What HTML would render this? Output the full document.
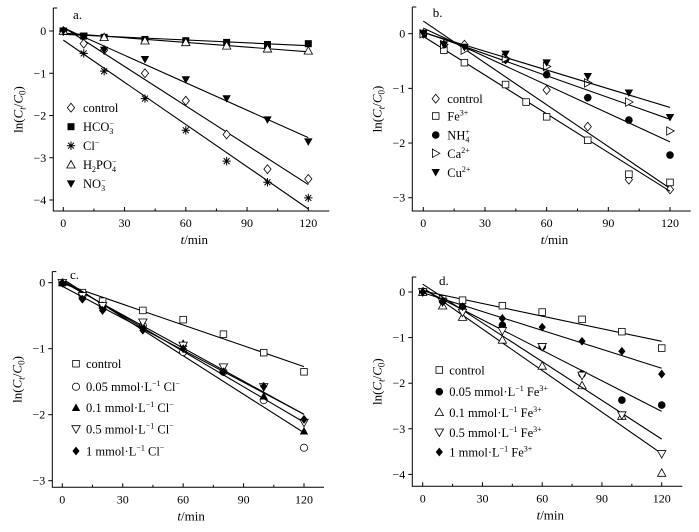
<!DOCTYPE html>
<html><head><meta charset="utf-8"><style>
html,body{margin:0;padding:0;background:#fff;}
svg{display:block;}
svg text{font-family:"Liberation Serif","Times New Roman",serif;}
</style></head><body>
<svg id="chart" width="699" height="532" viewBox="0 0 699 532" xmlns="http://www.w3.org/2000/svg" font-family="Liberation Serif, serif"></svg>
<script>
// ---- data ----
const tA = [0,10,20,40,60,80,100,120];
const aControl = [0,-0.3,-0.45,-1.0,-1.65,-2.45,-3.27,-3.5];
const aHCO3 = [0,-0.12,-0.15,-0.2,-0.23,-0.27,-0.32,-0.3];
const aCl = [0,-0.53,-0.95,-1.6,-2.35,-3.08,-3.58,-3.95];
const tA2 = [0,20,40,60,80,100,120];
const aH2PO4 = [0,-0.15,-0.23,-0.27,-0.35,-0.42,-0.47];
const aNO3 = [0,-0.12,-0.45,-0.67,-1.15,-1.6,-2.1,-2.62];

const tB = [0,10,20,40,60,80,100,120];
const tBFe = [0,10,20,40,50,60,80,100,120];
const bControl = [0,-0.2,-0.2,-0.47,-1.03,-1.7,-2.67,-2.85];
const bFe = [0,-0.3,-0.53,-0.93,-1.25,-1.52,-1.95,-2.57,-2.72];
const bNH4 = [0,-0.2,-0.25,-0.47,-0.75,-1.17,-1.58,-2.22];
const bCa = [0,-0.2,-0.3,-0.45,-0.6,-0.9,-1.25,-1.78];
const bCu = [0,-0.2,-0.25,-0.37,-0.53,-0.78,-1.08,-1.53];

const tC = [0,10,20,40,60,80,100,120];
const cControl = [0,-0.15,-0.28,-0.42,-0.56,-0.78,-1.06,-1.35];
const c005 = [0,-0.2,-0.35,-0.65,-1.05,-1.35,-1.78,-2.5];
const c01 = [0,-0.2,-0.35,-0.65,-0.92,-1.33,-1.72,-2.25];
const c05 = [0,-0.2,-0.35,-0.6,-0.95,-1.28,-1.58,-2.12];
const c1 = [0,-0.25,-0.42,-0.72,-1.0,-1.35,-1.57,-2.07];

const tD = [0,10,20,40,60,80,100,120];
const dControl = [0,-0.15,-0.18,-0.3,-0.44,-0.6,-0.87,-1.23];
const d005 = [0,-0.2,-0.33,-0.73,-1.2,-1.8,-2.37,-2.48];
const d01 = [0,-0.3,-0.55,-1.05,-1.62,-2.05,-2.72,-3.97];
const d05 = [0,-0.22,-0.45,-0.85,-1.2,-1.83,-2.7,-3.55];
const d1 = [0,-0.2,-0.32,-0.58,-0.77,-1.08,-1.3,-1.8];

const xTicks = [0,30,60,90,120];
const yTicksA = [0,-1,-2,-3,-4];
const yTicksB = [0,-1,-2,-3];
const yTicksC = [0,-1,-2,-3];
const yTicksD = [0,-1,-2,-3,-4];

const NS="http://www.w3.org/2000/svg";
const svg=document.getElementById('chart');
const FF='Liberation Serif, serif';
function mk(tag,attrs,parent){const e=document.createElementNS(NS,tag);for(const k in attrs)e.setAttribute(k,attrs[k]);if(tag==='text')e.setAttribute('font-family',FF);(parent||svg).appendChild(e);return e;}
function fit(xs,ys){const n=xs.length;let sx=0,sy=0,sxx=0,sxy=0;for(let i=0;i<n;i++){sx+=xs[i];sy+=ys[i];sxx+=xs[i]*xs[i];sxy+=xs[i]*ys[i];}const m=(n*sxy-sx*sy)/(n*sxx-sx*sx);return [m,(sy-m*sx)/n];}

function marker(g,type,x,y,s){
  s=s||3.6;let e;
  if(type==='diamond'){e=mk('polygon',{points:`${x},${y-s-0.8} ${x+s},${y} ${x},${y+s+0.8} ${x-s},${y}`,fill:'#fff',stroke:'#000','stroke-width':0.8},g);}
  else if(type==='diamondF'){e=mk('polygon',{points:`${x},${y-s-0.8} ${x+s},${y} ${x},${y+s+0.8} ${x-s},${y}`,fill:'#000'},g);}
  else if(type==='squareF'){e=mk('rect',{x:x-3.5,y:y-3.5,width:7,height:7,fill:'#000'},g);}
  else if(type==='square'){e=mk('rect',{x:x-3.3,y:y-3.3,width:6.6,height:6.6,fill:'#fff',stroke:'#000','stroke-width':0.8},g);}
  else if(type==='circle'){e=mk('circle',{cx:x,cy:y,r:3.6,fill:'#fff',stroke:'#000','stroke-width':0.8},g);}
  else if(type==='circleF'){e=mk('circle',{cx:x,cy:y,r:3.8,fill:'#000'},g);}
  else if(type==='tri'){e=mk('polygon',{points:`${x},${y-4.2} ${x+4.2},${y+3.3} ${x-4.2},${y+3.3}`,fill:'#fff',stroke:'#000','stroke-width':0.8},g);}
  else if(type==='triF'){e=mk('polygon',{points:`${x},${y-4.2} ${x+4.2},${y+3.3} ${x-4.2},${y+3.3}`,fill:'#000'},g);}
  else if(type==='dtri'){e=mk('polygon',{points:`${x},${y+4.2} ${x+4.2},${y-3.3} ${x-4.2},${y-3.3}`,fill:'#fff',stroke:'#000','stroke-width':0.8},g);}
  else if(type==='dtriF'){e=mk('polygon',{points:`${x},${y+4.2} ${x+4.2},${y-3.3} ${x-4.2},${y-3.3}`,fill:'#000'},g);}
  else if(type==='rtri'){e=mk('polygon',{points:`${x+4.2},${y} ${x-3.3},${y-4.2} ${x-3.3},${y+4.2}`,fill:'#fff',stroke:'#000','stroke-width':0.8},g);}
  else if(type==='star'){const p=[];for(let i=0;i<4;i++){const a=i*Math.PI/4;p.push(`M${x-4.2*Math.cos(a)},${y-4.2*Math.sin(a)}L${x+4.2*Math.cos(a)},${y+4.2*Math.sin(a)}`);}e=mk('path',{d:p.join(''),stroke:'#000','stroke-width':1,fill:'none'},g);}
  
  
  return e;
}

function panel(cfg){
  const g=mk('g',{});
  const X=v=>cfg.x0+(v-0)*(cfg.x1-cfg.x0)/120;
  const Y=v=>cfg.y0+(0-v)*cfg.yu;
  mk('path',{d:`M${cfg.ax},${cfg.top}L${cfg.ax},${cfg.bot}L${cfg.right},${cfg.bot}`,fill:'none',stroke:'#000','stroke-width':1,},g);
  mk('line',{x1:cfg.ax,y1:cfg.top,x2:cfg.ax+4,y2:cfg.top,stroke:'#000','stroke-width':1,},g);
  for(let v=0;v<=127;v+=15){mk('line',{x1:X(v),y1:cfg.bot,x2:X(v),y2:cfg.bot-(v%30===0?4:2.5),stroke:'#000','stroke-width':1,},g);}
  xTicks.forEach(v=>{const t=mk('text',{x:X(v),y:cfg.bot+16,'text-anchor':'middle','font-size':12,},g);t.textContent=v;});
  cfg.yTicks.forEach(v=>{mk('line',{x1:cfg.ax-4,y1:Y(v),x2:cfg.ax,y2:Y(v),stroke:'#000','stroke-width':1,},g);
    const t=mk('text',{x:cfg.ax-7,y:Y(v)+4,'text-anchor':'end','font-size':12,},g);t.textContent=v===0?'0':'\u2212'+(-v);});
  const xl=mk('text',{x:(cfg.ax+cfg.right)/2+3,y:cfg.bot+33,'text-anchor':'middle','font-size':13,},g);
  xl.innerHTML='<tspan font-style="italic">t</tspan>/min';
  const yl=mk('text',{transform:`translate(${cfg.ax-31},${(cfg.top+cfg.bot)/2}) rotate(-90)`,'text-anchor':'middle','font-size':13,},g);
  yl.innerHTML='ln(<tspan font-style="italic">C</tspan><tspan font-style="italic" font-size="9" dy="3">t</tspan><tspan dy="-3">/</tspan><tspan font-style="italic">C</tspan><tspan font-size="9" dy="3">0</tspan><tspan dy="-3">)</tspan>';
  const pl=mk('text',{x:cfg.lx,y:cfg.ly,'font-size':13,},g);pl.textContent=cfg.label;
  cfg.series.forEach((s,i)=>{
    const sg=mk('g',{},g);
    const [m,b]=fit(s.t,s.v);
    mk('line',{x1:X(0),y1:Y(b),x2:X(120),y2:Y(b+120*m),stroke:'#000','stroke-width':1.1,},sg);
    s.t.forEach((t,j)=>marker(sg,s.m,X(t),Y(s.v[j])));
    const lg=mk('g',{},g);
    const ly=cfg.legY[i];
    marker(lg,s.m,cfg.legMx,ly);
    const tx=mk('text',{x:cfg.legTx,y:ly+4.5,'font-size':12.5},lg);tx.innerHTML=s.label;
  });
}

panel({name:'panel-a',label:'a.',lx:73,ly:19,x0:63.3,x1:308.3,y0:31,yu:42.25,ax:53.3,top:8,bot:211,right:329.3,yTicks:yTicksA,
  legMx:71,legTx:83,legY:[107.7,126.7,145.7,164.7,183.7],
  series:[
   {key:'control',m:'diamond',t:tA,v:aControl,label:'control'},
   {key:'hco3',m:'squareF',t:tA,v:aHCO3,label:'HCO<tspan font-size="8" dy="3">3</tspan><tspan font-size="8" dy="-8" dx="-4">\u2212</tspan>'},
   {key:'cl',m:'star',t:tA,v:aCl,label:'Cl<tspan font-size="8" dy="-5">\u2212</tspan>'},
   {key:'h2po4',m:'tri',t:tA2,v:aH2PO4,label:'H<tspan font-size="8" dy="3">2</tspan><tspan dy="-3">PO</tspan><tspan font-size="8" dy="3">4</tspan><tspan font-size="8" dy="-8" dx="-4">\u2212</tspan>'},
   {key:'no3',m:'dtriF',t:tA,v:aNO3,label:'NO<tspan font-size="8" dy="3">3</tspan><tspan font-size="8" dy="-8" dx="-4">\u2212</tspan>'}]});

panel({name:'panel-b',label:'b.',lx:432.7,ly:17,x0:423.3,x1:670,y0:33.7,yu:54.67,ax:412.3,top:7,bot:211,right:690.7,yTicks:yTicksB,
  legMx:435.7,legTx:447.3,legY:[98.7,116,135,153.3,172.3],
  series:[
   {key:'control',m:'diamond',t:tB,v:bControl,label:'control'},
   {key:'fe',m:'square',t:tBFe,v:bFe,label:'Fe<tspan font-size="8" dy="-5">3+</tspan>'},
   {key:'nh4',m:'circleF',t:tB,v:bNH4,label:'NH<tspan font-size="8" dy="3">4</tspan><tspan font-size="8" dy="-8" dx="-4">+</tspan>'},
   {key:'ca',m:'rtri',t:tB,v:bCa,label:'Ca<tspan font-size="8" dy="-5">2+</tspan>'},
   {key:'cu',m:'dtriF',t:tB,v:bCu,label:'Cu<tspan font-size="8" dy="-5">2+</tspan>'}]});

panel({name:'panel-c',label:'c.',lx:70,ly:279,x0:62.3,x1:304,y0:282.7,yu:66,ax:52.3,top:271.6,bot:487.3,right:324,yTicks:yTicksC,
  legMx:76,legTx:86,legY:[363.7,386.7,407.7,429,451],
  series:[
   {key:'control',m:'square',t:tC,v:cControl,label:'control'},
   {key:'cl-005',m:'circle',t:tC,v:c005,label:'0.05 mmol·L<tspan font-size="8" dy="-5">\u22121</tspan><tspan dy="5"> Cl</tspan><tspan font-size="8" dy="-5">\u2212</tspan>'},
   {key:'cl-01',m:'triF',t:tC,v:c01,label:'0.1 mmol·L<tspan font-size="8" dy="-5">\u22121</tspan><tspan dy="5"> Cl</tspan><tspan font-size="8" dy="-5">\u2212</tspan>'},
   {key:'cl-05',m:'dtri',t:tC,v:c05,label:'0.5 mmol·L<tspan font-size="8" dy="-5">\u22121</tspan><tspan dy="5"> Cl</tspan><tspan font-size="8" dy="-5">\u2212</tspan>'},
   {key:'cl-1',m:'diamondF',t:tC,v:c1,label:'1 mmol·L<tspan font-size="8" dy="-5">\u22121</tspan><tspan dy="5"> Cl</tspan><tspan font-size="8" dy="-5">\u2212</tspan>'}]});

panel({name:'panel-d',label:'d.',lx:439,ly:285,x0:422.7,x1:661.7,y0:292,yu:45.6,ax:412.3,top:277,bot:486.3,right:682.3,yTicks:yTicksD,
  legMx:439.3,legTx:449.3,legY:[370,391.7,412.3,432.3,452],
  series:[
   {key:'control',m:'square',t:tD,v:dControl,label:'control'},
   {key:'fe-005',m:'circleF',t:tD,v:d005,label:'0.05 mmol·L<tspan font-size="8" dy="-5">\u22121</tspan><tspan dy="5"> Fe</tspan><tspan font-size="8" dy="-5">3+</tspan>'},
   {key:'fe-01',m:'tri',t:tD,v:d01,label:'0.1 mmol·L<tspan font-size="8" dy="-5">\u22121</tspan><tspan dy="5"> Fe</tspan><tspan font-size="8" dy="-5">3+</tspan>'},
   {key:'fe-05',m:'dtri',t:tD,v:d05,label:'0.5 mmol·L<tspan font-size="8" dy="-5">\u22121</tspan><tspan dy="5"> Fe</tspan><tspan font-size="8" dy="-5">3+</tspan>'},
   {key:'fe-1',m:'diamondF',t:tD,v:d1,label:'1 mmol·L<tspan font-size="8" dy="-5">\u22121</tspan><tspan dy="5"> Fe</tspan><tspan font-size="8" dy="-5">3+</tspan>'}]});
</script>
</body></html>
